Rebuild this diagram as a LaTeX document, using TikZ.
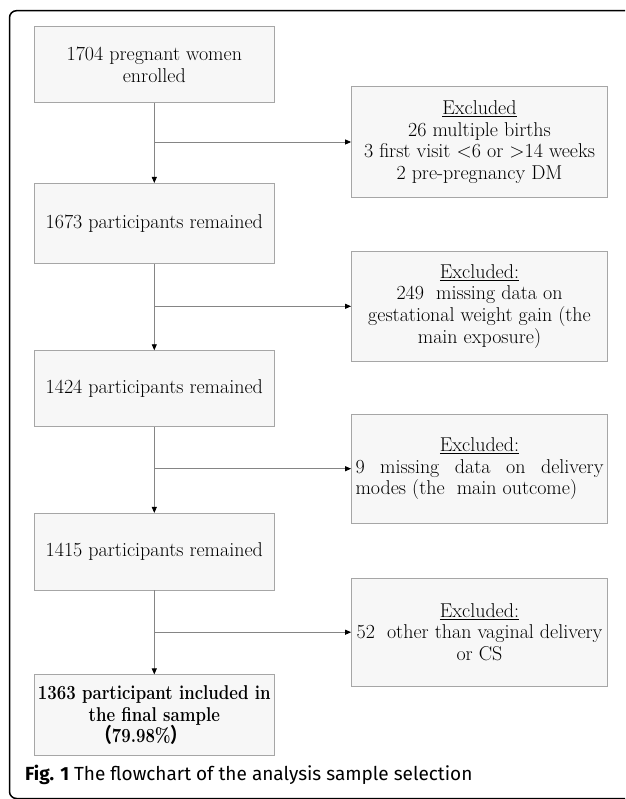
\documentclass[tikz,border=0pt]{standalone}
\usepackage{fontspec}
\newfontfamily\capfont{Fira Sans}
\newfontfamily\cjkfont{Noto Sans CJK SC}
\usetikzlibrary{arrows.meta}
\definecolor{boxfill}{HTML}{F7F7F7}
\definecolor{boxline}{HTML}{A6A6A6}
\definecolor{linkline}{HTML}{858585}
\newcommand{\narrowbf}[1]{\scalebox{0.84}[1]{\bfseries #1}}

\begin{document}
\begin{tikzpicture}[x=1pt, y=-1pt,
    mainbox/.style={draw=boxline, fill=boxfill, line width=0.8pt, minimum width=240pt,
        align=center, inner sep=0pt, font=\fontsize{20}{21.7}\selectfont},
    exbox/.style={draw=boxline, fill=boxfill, line width=0.8pt, minimum width=256pt,
        minimum height=109.5pt, align=center, inner sep=0pt, font=\fontsize{20}{21.7}\selectfont},
    link/.style={draw=linkline, line width=0.8pt, -{Triangle[length=6pt,width=5pt,color=black]}}]
        \clip (0,0) rectangle (625,799);
        \fill[white] (0,0) rectangle (625,799);
        % outer frame
        \draw[line width=1.5pt, rounded corners=7pt] (9.5,10.7) rectangle (650,798.5);
        % main column
        \node[mainbox, minimum height=75.6pt] (enrol) at (154.3,64.5) {1704 pregnant women\\enrolled};
        \node[mainbox, minimum height=80pt] (rem1) at (154.3,223.4) {1673 participants remained};
        \node[mainbox, minimum height=76pt] (rem2) at (154.3,388.7) {1424 participants remained};
        \node[mainbox, minimum height=76.7pt] (rem3) at (154.3,551.7) {1415 participants remained};
        \node[mainbox, minimum height=81pt] (final) at (154.3,715.3)
            {\narrowbf{1363 participant included in}\\\narrowbf{the final sample}\\
             \narrowbf{{\cjkfont （}79.98\%{\cjkfont ）}}\hspace*{26pt}};
        % excluded boxes
        \node[exbox, minimum height=110.6pt] (exc1) at (479.5,142) {\underline{Excluded}\\26 multiple births\\
            3 first visit <6 or >14 weeks\\2 pre-pregnancy DM};
        \node[exbox] (exc2) at (479.5,306.3) {\underline{Excluded:}\\249\ \ missing data on\\
            gestational weight gain (the\\main exposure)};
        \node[exbox] (exc3) at (479.5,468.7) {\underline{Excluded:}\\
            \makebox[248pt][s]{9 missing data on delivery}\\\makebox[248pt][l]{modes (the\ \ main outcome)}};
        \node[exbox, minimum height=108.3pt] (exc4) at (479.5,632.2) {\underline{Excluded:}\\
            52\ \ other than vaginal delivery\\or CS};
        % branch points
        \coordinate (j1) at (enrol |- exc1);
        \coordinate (j2) at (rem1 |- exc2);
        \coordinate (j3) at (rem2 |- exc3);
        \coordinate (j4) at (rem3 |- exc4);
        % connectors
        \draw[link] (enrol.south) -- (rem1.north);
        \draw[link] (rem1.south) -- (rem2.north);
        \draw[link] (rem2.south) -- (rem3.north);
        \draw[link] (rem3.south) -- (final.north);
        \draw[link] (j1) -- (exc1.west);
        \draw[link] (j2) -- (exc2.west);
        \draw[link] (j3) -- (exc3.west);
        \draw[link] (j4) -- (exc4.west);
        % caption
        \node[anchor=west, inner sep=0pt, font=\capfont\fontsize{19}{22}\selectfont] (caption) at (25,775)
            {\textbf{Fig. 1} The flowchart of the analysis sample selection};
    \end{tikzpicture}
\end{document}
